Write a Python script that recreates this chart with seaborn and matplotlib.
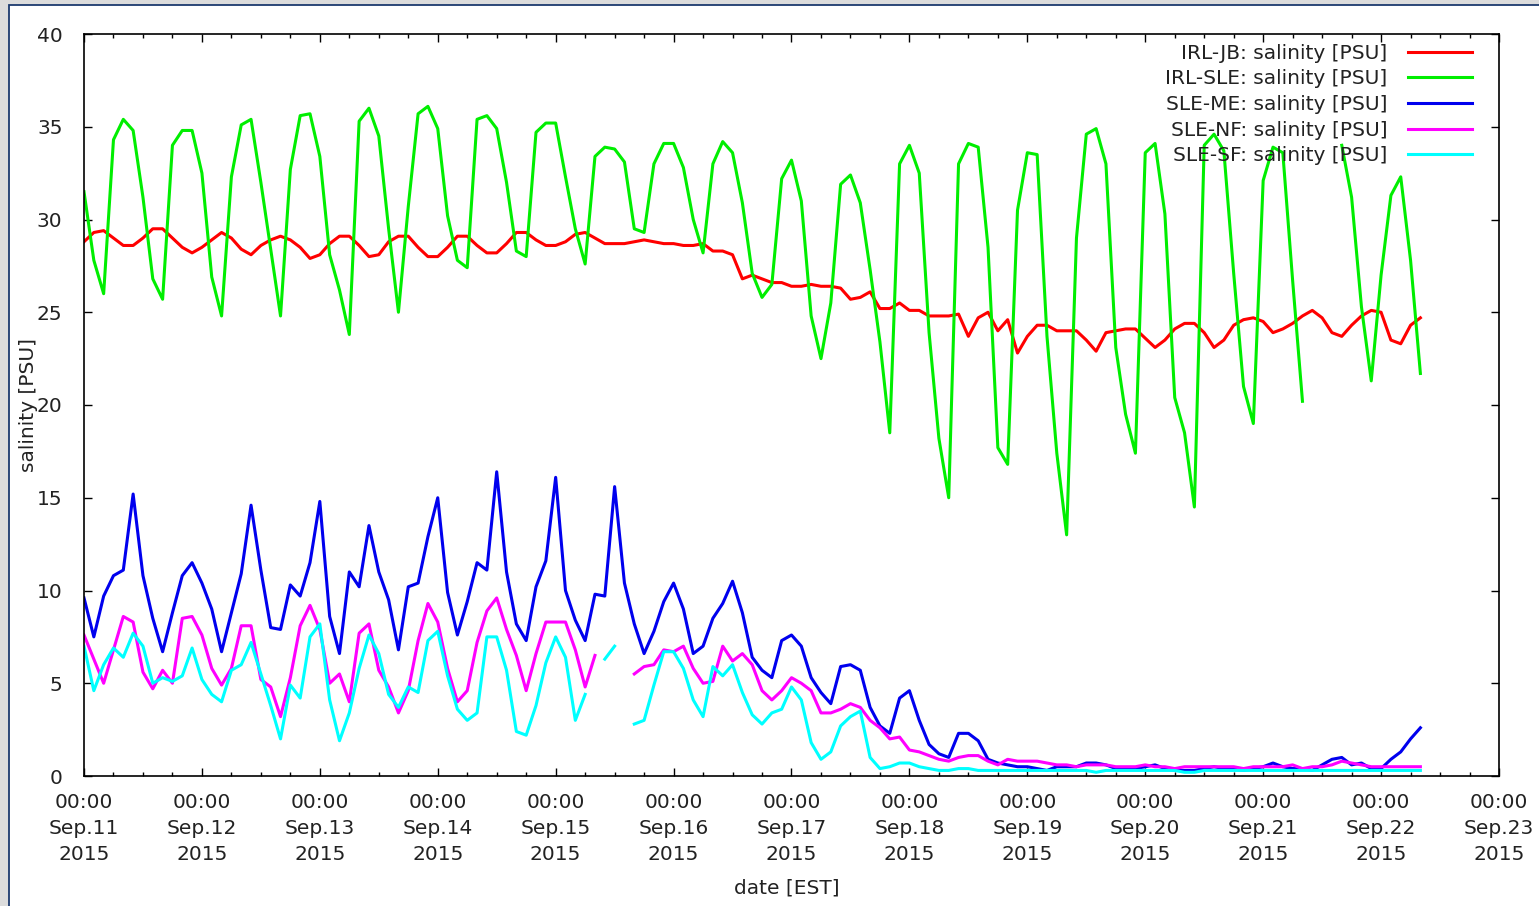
import numpy as np
import pandas as pd
import seaborn as sns
import matplotlib.pyplot as plt
import matplotlib.dates as mdates
from matplotlib.lines import Line2D
from matplotlib.patches import Rectangle
from matplotlib.ticker import MultipleLocator

nan = np.nan

# 2-hourly readings, Sep 11 2015 00:00 EST onwards
times = pd.date_range('2015-09-11 00:00', periods=137, freq='2h')

irl_jb = [
    28.8, 29.3, 29.4, 29.0, 28.6, 28.6, 29.0, 29.5, 29.5, 29.0,
    28.5, 28.2, 28.5, 28.9, 29.3, 29.0, 28.4, 28.1, 28.6, 28.9,
    29.1, 28.9, 28.5, 27.9, 28.1, 28.7, 29.1, 29.1, 28.6, 28.0,
    28.1, 28.8, 29.1, 29.1, 28.5, 28.0, 28.0, 28.5, 29.1, 29.1,
    28.6, 28.2, 28.2, 28.7, 29.3, 29.3, 28.9, 28.6, 28.6, 28.8,
    29.2, 29.3, 29.0, 28.7, 28.7, 28.7, 28.8, 28.9, 28.8, 28.7,
    28.7, 28.6, 28.6, 28.7, 28.3, 28.3, 28.1, 26.8, 27.0, 26.8,
    26.6, 26.6, 26.4, 26.4, 26.5, 26.4, 26.4, 26.3, 25.7, 25.8,
    26.1, 25.2, 25.2, 25.5, 25.1, 25.1, 24.8, 24.8, 24.8, 24.9,
    23.7, 24.7, 25.0, 24.0, 24.6, 22.8, 23.7, 24.3, 24.3, 24.0,
    24.0, 24.0, 23.5, 22.9, 23.9, 24.0, 24.1, 24.1, 23.6, 23.1,
    23.5, 24.1, 24.4, 24.4, 23.9, 23.1, 23.5, 24.3, 24.6, 24.7,
    24.5, 23.9, 24.1, 24.4, 24.8, 25.1, 24.7, 23.9, 23.7, 24.3,
    24.8, 25.1, 25.0, 23.5, 23.3, 24.3, 24.7,
]

irl_sle = [
    31.5, 27.8, 26.0, 34.3, 35.4, 34.8, 31.2, 26.8, 25.7, 34.0,
    34.8, 34.8, 32.5, 26.9, 24.8, 32.3, 35.1, 35.4, 32.0, 28.4,
    24.8, 32.7, 35.6, 35.7, 33.4, 28.1, 26.2, 23.8, 35.3, 36.0,
    34.5, 29.5, 25.0, 30.7, 35.7, 36.1, 34.9, 30.2, 27.8, 27.4,
    35.4, 35.6, 34.9, 32.0, 28.3, 28.0, 34.7, 35.2, 35.2, 32.3,
    29.5, 27.6, 33.4, 33.9, 33.8, 33.1, 29.5, 29.3, 33.0, 34.1,
    34.1, 32.8, 30.0, 28.2, 33.0, 34.2, 33.6, 30.9, 27.1, 25.8,
    26.5, 32.2, 33.2, 31.0, 24.8, 22.5, 25.5, 31.9, 32.4, 30.9,
    27.3, 23.4, 18.5, 33.0, 34.0, 32.5, 23.9, 18.2, 15.0, 33.0,
    34.1, 33.9, 28.5, 17.7, 16.8, 30.5, 33.6, 33.5, 23.7, 17.4,
    13.0, 29.0, 34.6, 34.9, 33.0, 23.1, 19.5, 17.4, 33.6, 34.1,
    30.3, 20.4, 18.5, 14.5, 34.0, 34.6, 33.7, 27.1, 21.0, 19.0,
    32.1, 33.9, 33.6, 26.7, 20.2, nan, nan, nan, 34.0, 31.2,
    25.3, 21.3, 27.0, 31.3, 32.3, 27.8, 21.7,
]

sle_me = [
    9.6, 7.5, 9.7, 10.8, 11.1, 15.2, 10.8, 8.5, 6.7, 8.8,
    10.8, 11.5, 10.4, 9.0, 6.7, 8.8, 10.9, 14.6, 11.1, 8.0,
    7.9, 10.3, 9.7, 11.5, 14.8, 8.6, 6.6, 11.0, 10.2, 13.5,
    11.0, 9.5, 6.8, 10.2, 10.4, 12.9, 15.0, 9.9, 7.6, 9.4,
    11.5, 11.1, 16.4, 11.0, 8.2, 7.3, 10.2, 11.6, 16.1, 10.0,
    8.4, 7.3, 9.8, 9.7, 15.6, 10.4, 8.2, 6.6, 7.8, 9.4,
    10.4, 9.0, 6.6, 7.0, 8.5, 9.3, 10.5, 8.8, 6.4, 5.7,
    5.3, 7.3, 7.6, 7.0, 5.3, 4.5, 3.9, 5.9, 6.0, 5.7,
    3.7, 2.7, 2.3, 4.2, 4.6, 3.0, 1.7, 1.2, 1.0, 2.3,
    2.3, 1.9, 0.9, 0.7, 0.6, 0.5, 0.5, 0.4, 0.3, 0.5,
    0.5, 0.5, 0.7, 0.7, 0.6, 0.4, 0.4, 0.4, 0.5, 0.6,
    0.4, 0.3, 0.3, 0.3, 0.4, 0.5, 0.4, 0.4, 0.3, 0.4,
    0.5, 0.7, 0.5, 0.4, 0.4, 0.3, 0.6, 0.9, 1.0, 0.6,
    0.7, 0.4, 0.4, 0.9, 1.3, 2.0, 2.6,
]

sle_nf = [
    7.6, 6.3, 5.0, 6.8, 8.6, 8.3, 5.6, 4.7, 5.7, 5.0,
    8.5, 8.6, 7.6, 5.8, 4.9, 5.8, 8.1, 8.1, 5.2, 4.8,
    3.2, 5.3, 8.1, 9.2, 7.9, 5.0, 5.5, 4.0, 7.7, 8.2,
    5.7, 4.8, 3.4, 4.6, 7.3, 9.3, 8.3, 5.8, 4.0, 4.6,
    7.2, 8.9, 9.6, 7.9, 6.5, 4.6, 6.6, 8.3, 8.3, 8.3,
    6.8, 4.8, 6.5, nan, nan, nan, 5.5, 5.9, 6.0, 6.8,
    6.7, 7.0, 5.8, 5.0, 5.1, 7.0, 6.2, 6.6, 6.0, 4.6,
    4.1, 4.6, 5.3, 5.0, 4.6, 3.4, 3.4, 3.6, 3.9, 3.7,
    3.0, 2.6, 2.0, 2.1, 1.4, 1.3, 1.1, 0.9, 0.8, 1.0,
    1.1, 1.1, 0.8, 0.6, 0.9, 0.8, 0.8, 0.8, 0.7, 0.6,
    0.6, 0.5, 0.6, 0.6, 0.6, 0.5, 0.5, 0.5, 0.6, 0.5,
    0.5, 0.4, 0.5, 0.5, 0.5, 0.5, 0.5, 0.5, 0.4, 0.5,
    0.5, 0.5, 0.5, 0.6, 0.4, 0.5, 0.5, 0.6, 0.8, 0.7,
    0.6, 0.5, 0.5, 0.5, 0.5, 0.5, 0.5,
]

sle_sf = [
    7.0, 4.6, 6.0, 6.9, 6.4, 7.7, 7.0, 5.0, 5.3, 5.1,
    5.4, 6.9, 5.2, 4.4, 4.0, 5.7, 6.0, 7.2, 5.5, 3.8,
    2.0, 4.9, 4.2, 7.5, 8.2, 4.1, 1.9, 3.4, 5.8, 7.6,
    6.6, 4.4, 3.7, 4.8, 4.5, 7.3, 7.8, 5.4, 3.6, 3.0,
    3.4, 7.5, 7.5, 5.7, 2.4, 2.2, 3.8, 6.1, 7.5, 6.4,
    3.0, 4.4, nan, 6.3, 7.0, nan, 2.8, 3.0, 4.9, 6.7,
    6.7, 5.8, 4.1, 3.2, 5.9, 5.4, 6.0, 4.5, 3.3, 2.8,
    3.4, 3.6, 4.8, 4.1, 1.8, 0.9, 1.3, 2.7, 3.2, 3.5,
    1.0, 0.4, 0.5, 0.7, 0.7, 0.5, 0.4, 0.3, 0.3, 0.4,
    0.4, 0.3, 0.3, 0.3, 0.3, 0.3, 0.3, 0.3, 0.3, 0.3,
    0.3, 0.3, 0.3, 0.2, 0.3, 0.3, 0.3, 0.3, 0.3, 0.3,
    0.3, 0.3, 0.2, 0.2, 0.3, 0.3, 0.3, 0.3, 0.3, 0.3,
    0.3, 0.3, 0.3, 0.3, 0.3, 0.3, 0.3, 0.3, 0.3, 0.3,
    0.3, 0.3, 0.3, 0.3, 0.3, 0.3, 0.3,
]

labels = ['IRL-JB: salinity [PSU]', 'IRL-SLE: salinity [PSU]',
          'SLE-ME: salinity [PSU]', 'SLE-NF: salinity [PSU]',
          'SLE-SF: salinity [PSU]']
colors = ['#ff0000', '#00ee00', '#0000ee', '#ff00ff', '#00ffff']
palette = dict(zip(labels, colors))

# long table, gaps split into separate segments
frames = []
for name, vals in zip(labels, [irl_jb, irl_sle, sle_me, sle_nf, sle_sf]):
    s = pd.Series(vals, dtype=float)
    frames.append(pd.DataFrame({'time': times, 'salinity': s.values,
                                'series': name, 'seg': s.isna().cumsum().values}))
df = pd.concat(frames, ignore_index=True).dropna()

txt = '#222222'
fs = 14.5
fig = plt.figure(figsize=(15.39, 9.06), dpi=100)
fig.patch.set_facecolor('#dcdcdc')
fig.add_artist(Rectangle((8.5 / 1539, -0.05), 1.1, 1.05 - 4.5 / 906,
                         transform=fig.transFigure, facecolor='white',
                         edgecolor='#1c3a6e', linewidth=1.3, zorder=-1))
ax = fig.add_axes([84 / 1539, 130 / 906, 1415 / 1539, 742 / 906])

sns.lineplot(data=df, x='time', y='salinity', hue='series', hue_order=labels,
             units='seg', estimator=None, palette=palette, linewidth=2.2,
             legend=False, ax=ax)

x0, x1 = pd.Timestamp('2015-09-11'), pd.Timestamp('2015-09-23')
ax.set_xlim(x0, x1)
ax.set_ylim(0, 40)
ax.xaxis.set_major_locator(mdates.DayLocator())
ax.xaxis.set_minor_locator(mdates.HourLocator(byhour=[6, 12, 18]))
ax.yaxis.set_major_locator(MultipleLocator(5))
ax.tick_params(which='both', direction='in', top=True, right=True,
               width=1.0, colors='black', labelcolor=txt, labelsize=fs)
ax.tick_params(which='major', length=6)
ax.tick_params(which='minor', length=3)
ax.tick_params(axis='x', labelbottom=False)
ax.tick_params(axis='y', pad=15.5)
for sp in ax.spines.values():
    sp.set_linewidth(1.2)
    sp.set_color('black')
ax.set_xlabel('')
ax.set_ylabel('')

# three-line date labels under each day tick
for d in pd.date_range(x0, x1, freq='D'):
    ax.text(mdates.date2num(d), -0.0235, d.strftime('%H:%M\n%b.%d\n%Y'),
            transform=ax.get_xaxis_transform(), ha='center', va='top',
            fontsize=fs, color=txt, linespacing=1.45)

fig.text(29 / 1539, 1 - 405 / 906, 'salinity [PSU]', rotation=90,
         ha='center', va='center', fontsize=fs, color=txt)
fig.text(787 / 1539, 1 - 888 / 906, 'date [EST]', ha='center', va='center',
         fontsize=fs, color=txt)

handles = [Line2D([], [], color=palette[n], linewidth=2.2) for n in labels]
ax.legend(handles, labels, loc='upper right', bbox_to_anchor=(0.981, 0.987),
          frameon=False, markerfirst=False, fontsize=fs, handlelength=3.2,
          handletextpad=1.0, labelspacing=0.33, borderpad=0, borderaxespad=0,
          labelcolor=txt)

fig.savefig('out.png', dpi=100)
